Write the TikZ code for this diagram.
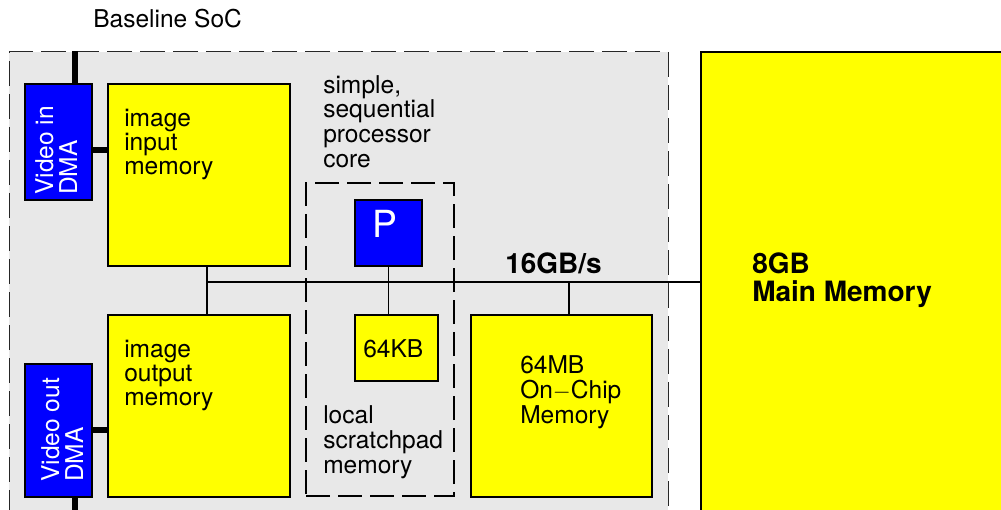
\documentclass[tikz,border=0pt]{standalone}
\usepackage{fontspec}
\setmainfont{TeX Gyre Heros}
\usetikzlibrary{fit}
\definecolor{socgray}{HTML}{E8E8E8}
\definecolor{memyellow}{HTML}{FFFF00}
\definecolor{dmablue}{HTML}{0000FF}
\begin{document}
\begin{tikzpicture}[x=0.75pt,y=-0.75pt,
  box/.style={draw=black, line width=1pt, inner sep=0pt},
  ymem/.style={box, fill=memyellow},
  bdma/.style={box, fill=dmablue},
  socbox/.style={draw=black!85, fill=socgray, line width=0.75pt, dash pattern=on 18.75pt off 6pt, inner sep=0pt},
  corebox/.style={draw=black, line width=1.5pt, dash pattern=on 18pt off 6pt, inner sep=0pt},
  txt/.style={inner sep=0pt, align=left, font=\fontsize{18.4}{18}\selectfont},
  wtxt/.style={txt, text=white},
  btxt/.style={inner sep=0pt, align=left, font=\fontsize{21}{20.5}\selectfont\bfseries},
  thickline/.style={line width=4.5pt},
  bus/.style={line width=1.1pt}]
\useasboundingbox (0,0) rectangle (1001,510);
\clip (0,0) rectangle (1001,510);

% regions
\node[socbox, fit={(9,52) (668,540)}] (soc) {};
\node[ymem, line width=1.2pt, fit={(701,52) (1030,540)}] (mm) {};
\node[corebox, fit={(306,183) (454,496)}] (core) {};

% blocks
\node[bdma, fit={(25,84) (92,200)}] (vin) {};
\node[bdma, fit={(25,364) (92,497)}] (vout) {};
\node[ymem, fit={(108,84) (290,266)}] (iim) {};
\node[ymem, fit={(108,315) (290,497)}] (iom) {};
\node[bdma, fit={(355,200) (422,266)}] (p) {};
\node[ymem, fit={(355,315) (438,381)}] (kb) {};
\node[ymem, fit={(471,315) (652,497)}] (mb) {};

% helper coordinates
\coordinate (dmax) at (75,0);
\coordinate (y150) at (0,150);
\coordinate (y430) at (0,430);
\coordinate (bottom) at (0,540);
\coordinate (busy) at (0,282);
\coordinate (bx) at (207,0);
\coordinate (mbx) at (569,0);

% connectors
\draw[thickline] (vin.north -| dmax) -- (soc.north -| dmax);
\draw[thickline] (vout.south -| dmax) -- (dmax |- bottom);
\draw[thickline] (vin.east |- y150) -- (iim.west |- y150);
\draw[thickline] (vout.east |- y430) -- (iom.west |- y430);
\draw[bus] (iim.south -| bx) -- (iom.north -| bx);
\draw[bus] (bx |- busy) -- (mm.west |- busy);
\draw[bus] (p.south) -- (p.south |- kb.north);
\draw[bus] (mbx |- busy) -- (mb.north -| mbx);

% texts (base anchor = baseline of the last line)
\node[txt, anchor=base west] (soclabel) at (93,28) {Baseline SoC};
\node[txt, anchor=base west] (iimtext) at (124,175) {image\\input\\memory};
\node[txt, anchor=base west] (iomtext) at (124,405) {image\\output\\memory};
\node[txt, anchor=base west, font=\fontsize{18.4}{18.5}\selectfont] (coretext) at (323,167) {simple,\\sequential\\processor\\core};
\node[txt, anchor=base west, font=\fontsize{18.4}{18.75}\selectfont] (sptext) at (323,473) {local\\scratchpad\\memory};
\node[txt, anchor=base west] (kbtext) at (363,357) {64KB};
\node[txt, anchor=base west, font=\fontsize{18.4}{18.75}\selectfont] (mbtext) at (520,423) {64MB\\On$-$Chip\\Memory};
\node[btxt, anchor=base west] (bwtext) at (505,273) {16GB/s};
\node[btxt, anchor=base west] (mmtext) at (752,301) {8GB\\Main Memory};
\node[inner sep=0pt, text=white, font=\fontsize{28}{28}\selectfont, anchor=base] (ptext) at (385,238) {P};
\node[wtxt, rotate=90, anchor=base west] (vintext) at (77,195) {Video in\\DMA};
\node[wtxt, rotate=90, anchor=base west] (vouttext) at (83,482) {Video out\\DMA};
\end{tikzpicture}
\end{document}
